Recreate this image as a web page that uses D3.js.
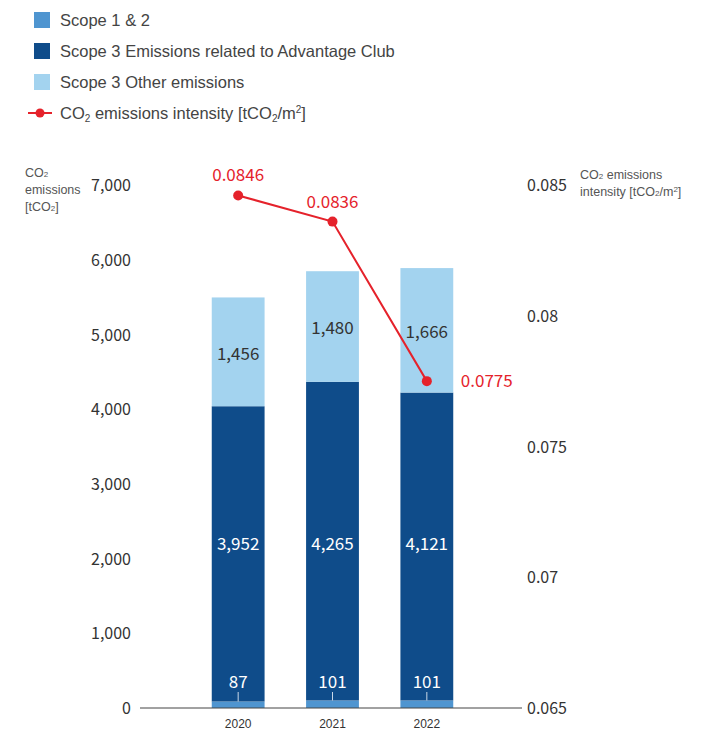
<!DOCTYPE html>
<html><head><meta charset="utf-8">
<script src="https://cdn.jsdelivr.net/npm/d3@7"></script>
<style>body{margin:0;background:#fff}svg{display:block}</style>
</head><body>
<svg id="c" width="715" height="732"></svg>
<script>
const years = ["2020","2021","2022"];
const scope12 = [87,101,101];
const scope3AC = [3952,4265,4121];
const scope3Other = [1456,1480,1666];
const intensity = [0.0846,0.0836,0.0775];
const leftTicks = [0,1000,2000,3000,4000,5000,6000,7000];
const rightTicks = [0.065,0.07,0.075,0.08,0.085];
const seriesNames = ["Scope 1 & 2","Scope 3 Emissions related to Advantage Club","Scope 3 Other emissions"];
const colors = ["#4f95d0","#0f4c8a","#a3d3ef"];
const red = "#e5222b";
const numFont = "'Noto Sans CJK JP', 'Noto Sans', sans-serif";
const txtFont = "'Liberation Sans', Arial, sans-serif";

const svg = d3.select("#c");
const y = d3.scaleLinear().domain([0,7000]).range([708,185]);
const y2 = d3.scaleLinear().domain([0.065,0.085]).range([708,185]);
const x = d3.scaleBand().domain(years).range([191,474]).paddingInner(0.44).paddingOuter(0.22);
const cx = d => x(d) + x.bandwidth()/2;

// legend
const leg = svg.append("g");
seriesNames.forEach((n,i)=>{
  const yy = 20 + i*31;
  leg.append("rect").attr("x",34).attr("y",yy-8).attr("width",16).attr("height",16).attr("fill",colors[i]);
  leg.append("text").attr("x",60).attr("y",yy+6).attr("font-family",txtFont).attr("font-size",16.5).attr("fill","#444").text(n);
});
leg.append("line").attr("x1",28).attr("x2",52).attr("y1",113).attr("y2",113).attr("stroke",red).attr("stroke-width",2);
leg.append("circle").attr("cx",40).attr("cy",113).attr("r",4.5).attr("fill",red);
const lt = leg.append("text").attr("x",60).attr("y",119).attr("font-family",txtFont).attr("font-size",16.5).attr("fill","#444");
lt.append("tspan").text("CO");
lt.append("tspan").attr("font-size",10).attr("dy",3).text("2");
lt.append("tspan").attr("dy",-3).text(" emissions intensity [tCO");
lt.append("tspan").attr("font-size",10).attr("dy",3).text("2");
lt.append("tspan").attr("dy",-3).text("/m");
lt.append("tspan").attr("font-size",10).attr("dy",-6).text("2");
lt.append("tspan").attr("dy",6).text("]");

// axis titles
const at = svg.append("g").attr("font-family",txtFont).attr("font-size",12.5).attr("fill","#555");
let t1 = at.append("text").attr("x",25).attr("y",177);
t1.append("tspan").text("CO"); t1.append("tspan").attr("font-size",8).text("2");
at.append("text").attr("x",25).attr("y",194).text("emissions");
let t2 = at.append("text").attr("x",25).attr("y",211);
t2.append("tspan").text("[tCO"); t2.append("tspan").attr("font-size",8).text("2"); t2.append("tspan").text("]");
let t3 = at.append("text").attr("x",580).attr("y",179);
t3.append("tspan").text("CO"); t3.append("tspan").attr("font-size",8).text("2"); t3.append("tspan").text(" emissions");
let t4 = at.append("text").attr("x",580).attr("y",196);
t4.append("tspan").text("intensity [tCO"); t4.append("tspan").attr("font-size",8).text("2");
t4.append("tspan").text("/m"); t4.append("tspan").attr("font-size",8).attr("dy",-4).text("2"); t4.append("tspan").attr("dy",4).text("]");

// left axis
const la = svg.append("g").attr("transform","translate(131,0)")
  .call(d3.axisLeft(y).tickValues(leftTicks).tickSize(0).tickPadding(0).tickFormat(d3.format(",")));
la.select(".domain").remove();
la.selectAll("text").attr("font-family",numFont).attr("font-size",16).attr("fill","#333").attr("dy","0.35em");
// right axis
const ra = svg.append("g").attr("transform","translate(527,0)")
  .call(d3.axisRight(y2).tickValues(rightTicks).tickSize(0).tickPadding(0).tickFormat(d=>String(+d.toFixed(3))));
ra.select(".domain").remove();
ra.selectAll("text").attr("font-family",numFont).attr("font-size",16).attr("fill","#333").attr("dy","0.35em");

// bars
const stackData = years.map((yr,i)=>({year:yr,s0:scope12[i],s1:scope3AC[i],s2:scope3Other[i]}));
const stack = d3.stack().keys(["s0","s1","s2"])(stackData);
stack.forEach((layer,k)=>{
  svg.append("g").selectAll("rect").data(layer).join("rect")
    .attr("x",d=>x(d.data.year)).attr("width",x.bandwidth())
    .attr("y",d=>y(d[1])).attr("height",d=>y(d[0])-y(d[1]))
    .attr("fill",colors[k]);
});

// axis baseline
svg.append("line").attr("x1",140).attr("x2",522).attr("y1",708).attr("y2",708).attr("stroke","#444").attr("stroke-width",1);

// x labels
svg.append("g").selectAll("text").data(years).join("text")
  .attr("x",d=>cx(d)).attr("y",724).attr("dy","0.35em").attr("text-anchor","middle")
  .attr("font-family",txtFont).attr("font-size",12).attr("fill","#333").text(d=>d);

// value labels
const lbl = svg.append("g").attr("font-family",numFont).attr("font-size",17).attr("text-anchor","middle");
stackData.forEach((d,i)=>{
  const c = cx(d.year);
  lbl.append("text").attr("x",c).attr("y",y(2200)).attr("dy","0.35em").attr("fill","#fff").text(d3.format(",")(d.s1));
  lbl.append("text").attr("x",c).attr("y",(y(d.s0+d.s1)+y(d.s0+d.s1+d.s2))/2+2).attr("dy","0.35em").attr("fill","#333").text(d3.format(",")(d.s2));
  lbl.append("text").attr("x",c).attr("y",682).attr("dy","0.35em").attr("fill","#fff").text(d3.format(",")(d.s0));
  svg.append("line").attr("x1",c).attr("x2",c).attr("y1",692).attr("y2",y(d.s0)).attr("stroke","#c9d8e8").attr("stroke-width",1);
});

// line
const pts = years.map((yr,i)=>[cx(yr),y2(intensity[i])]);
svg.append("path").attr("d",d3.line()(pts)).attr("fill","none").attr("stroke",red).attr("stroke-width",2);
svg.append("g").selectAll("circle").data(pts).join("circle").attr("cx",d=>d[0]).attr("cy",d=>d[1]).attr("r",5).attr("fill",red);
const il = svg.append("g").attr("font-family",numFont).attr("font-size",17).attr("fill",red);
const offs = [[0,-20,"middle"],[0,-20,"middle"],[34,0,"start"]];
pts.forEach((p,i)=>{
  il.append("text").attr("x",p[0]+offs[i][0]).attr("y",p[1]+offs[i][1]).attr("dy","0.35em")
    .attr("text-anchor",offs[i][2]).text(intensity[i].toFixed(4));
});
</script>
</body></html>
